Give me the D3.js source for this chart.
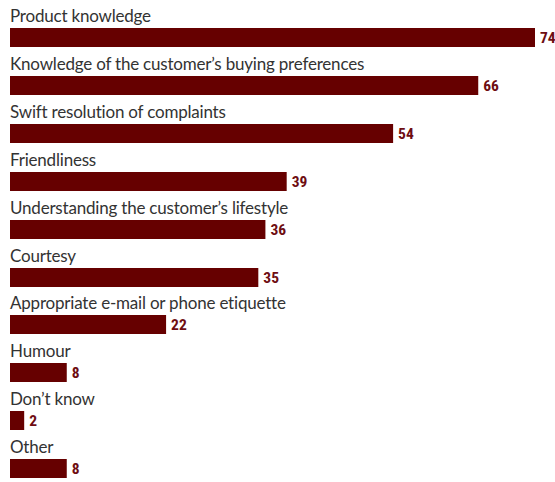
<!DOCTYPE html>
<html><head><meta charset="utf-8">
<script src="https://cdn.jsdelivr.net/npm/d3@7"></script>
<style>body{margin:0;background:#fff}svg{display:block}</style>
</head><body><svg id="c" width="555" height="482"></svg>
<script>
const categories = ["Product knowledge","Knowledge of the customer\u2019s buying preferences","Swift resolution of complaints","Friendliness","Understanding the customer\u2019s lifestyle","Courtesy","Appropriate e-mail or phone etiquette","Humour","Don\u2019t know","Other"];
const values = [74,66,54,39,36,35,22,8,2,8];

const svg = d3.select("#c");
const x = d3.scaleLinear().domain([0,74]).range([10,535]);
const y = d3.scaleBand().domain(categories).range([28,507]).paddingInner(0).paddingOuter(0);
const barH = 19;
const g = svg.selectAll("g.row").data(categories).join("g").attr("class","row")
  .attr("transform", d=>`translate(0,${Math.round(y(d))})`);
g.append("text").attr("x",10).attr("y",-6.5).text(d=>d)
  .attr("font-family","Lato, sans-serif").attr("font-size",17).attr("letter-spacing",-0.2).attr("fill","#333");
g.append("rect").attr("x",x(0)).attr("y",0).attr("height",barH)
  .attr("width",(d,i)=>x(values[i])-x(0)).attr("fill","#660000");
g.append("text").attr("x",(d,i)=>x(values[i])+5).attr("y",15).text((d,i)=>values[i])
  .attr("font-family","Liberation Sans Narrow, Roboto Condensed, sans-serif").attr("font-weight","bold").attr("font-size",15.5).attr("fill","#6e0d12");
</script></body></html>
